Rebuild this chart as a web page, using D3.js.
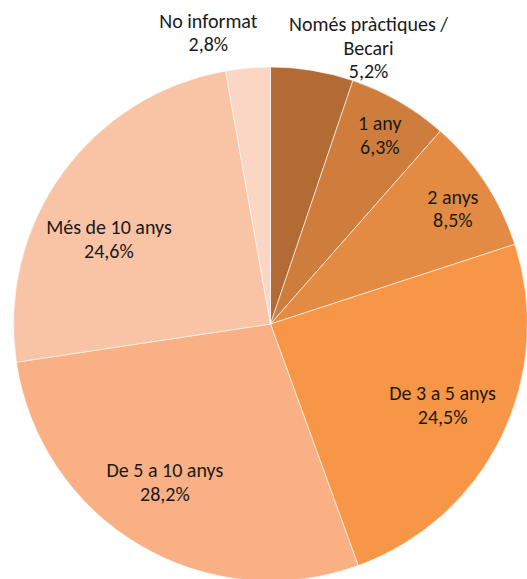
<!DOCTYPE html>
<html>
<head>
<meta charset="utf-8">
<script src="https://cdn.jsdelivr.net/npm/d3@7"></script>
<style>
  body { margin: 0; background: #fff; }
  svg text { font-family: Carlito, "Open Sans", Lato, sans-serif; fill: #1a1a1a; }
</style>
</head>
<body>
<div class="chart"></div>
<script>
// data
const categories = ["Només pràctiques / Becari", "1 any", "2 anys", "De 3 a 5 anys",
                    "De 5 a 10 anys", "Més de 10 anys", "No informat"];
const labelLines = [["Només pràctiques /", "Becari"], ["1 any"], ["2 anys"], ["De 3 a 5 anys"],
                    ["De 5 a 10 anys"], ["Més de 10 anys"], ["No informat"]];
const values = [5.2, 6.3, 8.5, 24.5, 28.2, 24.6, 2.8];
const colors = ["#b26b34", "#cf7d3d", "#e38b43", "#f79646", "#f8b084", "#f9c3a6", "#fbd6c4"];

// layout
const width = 527, height = 579;
const cx = 270.5, cy = 324, radius = 257;
// label placement: radius factor and angle shift (deg) per slice
const labelPos = [
  {r: 1.14, shift: 10.2}, {r: 0.85, shift: 0}, {r: 0.84, shift: 1}, {r: 0.74, shift: -0.8},
  {r: 0.74, shift: 3}, {r: 0.71, shift: -8}, {r: 1.16, shift: -7}
];

const svg = d3.select(".chart").append("svg")
  .attr("width", width)
  .attr("height", height);

const g = svg.append("g")
  .attr("transform", "translate(" + cx + "," + cy + ")");

const pie = d3.pie().sort(null).value(d => d);
const arcs = pie(values);

const arc = d3.arc().innerRadius(0).outerRadius(radius);

g.selectAll("path")
  .data(arcs)
  .enter().append("path")
  .attr("d", arc)
  .attr("fill", (d, i) => colors[i])
  .attr("stroke", "#fff")
  .attr("stroke-width", 0.6);

const fmt = v => d3.format(".1f")(v).replace(".", ",") + "%";
const lineH = 23.5;

arcs.forEach((d, i) => {
  const a = (d.startAngle + d.endAngle) / 2 + labelPos[i].shift * Math.PI / 180;
  const r = radius * labelPos[i].r;
  const x = Math.sin(a) * r;
  const y = -Math.cos(a) * r;
  const lines = labelLines[i].concat([fmt(values[i])]);
  const t = g.append("text")
    .attr("text-anchor", "middle")
    .style("font-size", "20px");
  lines.forEach((s, j) => {
    t.append("tspan")
      .attr("x", x)
      .attr("y", y + (j - (lines.length - 1) / 2) * lineH)
      .attr("dy", "0.35em")
      .text(s);
  });
});
</script>
</body>
</html>
